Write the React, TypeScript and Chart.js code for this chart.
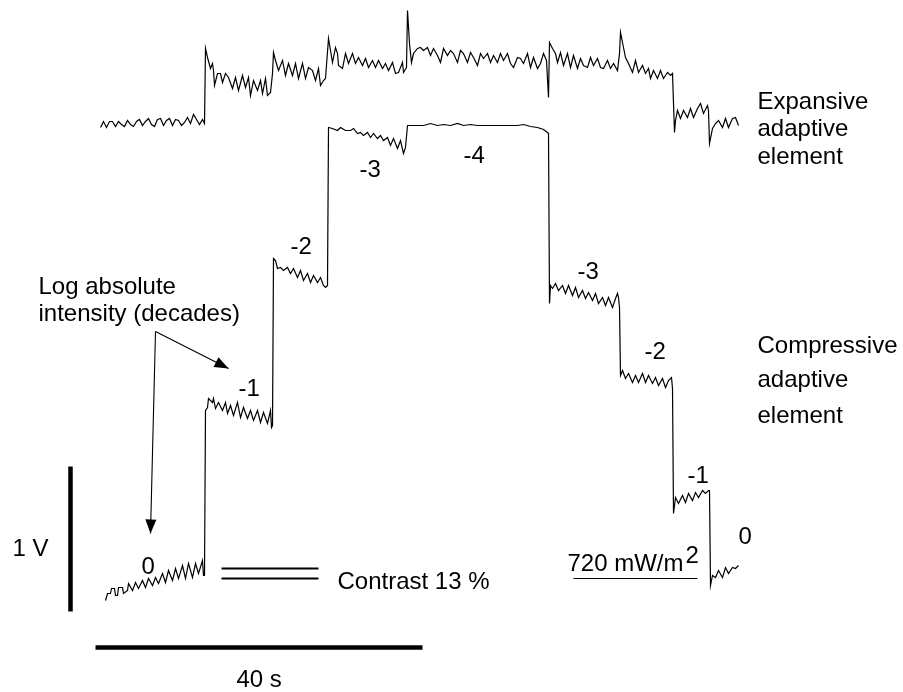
import { useEffect, useRef } from "react";
import { Chart, registerables } from "chart.js";

Chart.register(...registerables);

// Figure units: time axis, 327 units = 40 s; signal axis (pointing down), 145 units = 1 V.

// Upper trace: expansive adaptive element  [time, signal]
const expansiveTrace: [number, number][] = [
  [100, 127], [103, 121], [106, 127], [109, 121], [112, 121], [115, 126], [118, 121], [121, 124],
  [124, 126], [127, 120], [130, 124], [133, 126], [136, 121], [139, 119], [142, 125], [145, 121],
  [148, 118], [151, 124], [154, 126], [157, 119], [160, 118], [163, 125], [166, 120], [169, 118],
  [172, 125], [175, 119], [178, 120], [181, 125], [184, 122], [187, 117], [190, 123], [193, 114],
  [196, 119], [199, 124], [202, 119], [204, 123],
  [205, 48], [207, 57], [210, 68], [212, 63], [213, 70], [214, 85], [217, 73], [220, 73], [222, 82],
  [225, 73], [228, 77], [232, 88], [235, 77], [238, 90], [242, 75], [245, 87], [248, 77], [250, 95],
  [253, 80], [257, 90], [260, 80], [262, 93], [265, 78], [267, 95], [270, 92], [272, 73],
  [273, 52], [275, 60], [278, 70], [282, 60], [285, 75], [288, 63], [292, 75], [295, 63], [298, 78],
  [302, 63], [305, 78], [308, 67], [312, 70], [315, 80], [318, 68], [320, 85], [323, 80], [325, 78],
  [328, 38], [330, 50], [332, 62], [335, 47], [337, 53], [338, 65], [342, 68], [345, 53], [348, 63],
  [352, 53], [355, 63], [358, 57], [362, 65], [365, 58], [368, 67], [372, 60], [375, 67], [378, 60],
  [382, 68], [385, 63], [388, 70], [392, 62], [395, 73], [398, 72], [402, 62], [403, 72], [406, 67],
  [407, 10], [409, 43], [411, 62], [413, 53], [417, 48], [420, 47], [423, 50], [427, 47], [430, 55],
  [433, 48], [437, 55], [440, 62], [443, 48], [447, 55], [450, 50], [453, 53], [457, 62], [460, 50],
  [463, 53], [467, 62], [470, 52], [473, 57], [477, 65], [480, 53], [483, 58], [487, 53], [490, 62],
  [493, 55], [497, 62], [500, 53], [503, 60], [507, 53], [510, 63], [513, 67], [517, 57], [520, 58],
  [523, 63], [527, 53], [530, 67], [533, 57], [537, 68], [540, 63], [543, 53], [546, 60],
  [548, 97], [549, 42], [552, 48], [555, 53], [557, 62], [560, 52], [563, 65], [567, 53], [570, 67],
  [573, 55], [577, 68], [580, 58], [583, 65], [587, 67], [590, 57], [593, 65], [597, 58], [600, 67],
  [603, 68], [607, 60], [610, 68], [613, 63], [617, 70], [619, 53],
  [620, 32], [622, 42], [625, 57], [628, 63], [632, 72], [635, 60], [638, 72], [642, 65], [645, 73],
  [648, 68], [650, 78], [653, 70], [657, 78], [660, 70], [663, 78], [667, 72], [670, 75], [672, 73],
  [674, 132], [675, 120], [677, 110], [680, 118], [683, 110], [687, 117], [690, 108], [693, 117],
  [697, 108], [700, 103], [703, 113], [707, 105], [708, 110],
  [709, 143], [712, 128], [715, 123], [718, 120], [722, 127], [725, 118], [728, 127], [732, 118],
  [735, 117], [738, 125],
];

// Lower trace: compressive adaptive element  [time, signal]
const compressiveTrace: [number, number][] = [
  [105, 600], [107, 593], [110, 593], [111, 588], [114, 588], [115, 595], [117, 595], [118, 587],
  [122, 587], [123, 593], [127, 590], [128, 583], [132, 590], [135, 582], [138, 588], [142, 580],
  [145, 587], [148, 578], [152, 585], [155, 577], [158, 583], [162, 573], [165, 582], [168, 570],
  [172, 580], [175, 568], [178, 578], [182, 565], [185, 578], [188, 563], [192, 577], [195, 563],
  [198, 573], [202, 560], [203, 575], [204, 575],
  [205, 410], [207, 407], [208, 398], [212, 402], [213, 398], [215, 408], [218, 402], [222, 410],
  [225, 402], [227, 413], [230, 405], [233, 415], [237, 402], [240, 417], [243, 407], [247, 418],
  [250, 410], [253, 420], [257, 410], [260, 422], [263, 412], [267, 423], [270, 410], [271, 427],
  [272, 425],
  [273, 258], [275, 260], [277, 268], [280, 267], [283, 270], [287, 267], [290, 273], [293, 268],
  [297, 277], [300, 270], [303, 280], [307, 273], [310, 282], [313, 275], [317, 282], [320, 277],
  [323, 285], [325, 287], [327, 285],
  [328, 127], [332, 128], [337, 130], [340, 127], [345, 130], [350, 130], [353, 128], [357, 133],
  [360, 132], [363, 135], [367, 132], [370, 137], [373, 133], [377, 138], [380, 135], [383, 140],
  [387, 137], [390, 145], [393, 138], [397, 148], [400, 140], [403, 153], [405, 147],
  [407, 125], [410, 125], [423, 125], [430, 123], [437, 125], [443, 124], [450, 125], [457, 123],
  [463, 125], [470, 124], [477, 125], [490, 125], [507, 125], [517, 125], [523, 124], [530, 126],
  [537, 127], [543, 129], [547, 132], [548, 133],
  [549, 303], [550, 285], [552, 288], [555, 283], [558, 290], [562, 285], [565, 293], [568, 285],
  [572, 295], [575, 287], [578, 297], [582, 290], [585, 298], [588, 292], [592, 300], [595, 293],
  [598, 303], [602, 297], [605, 305], [608, 297], [612, 307], [615, 298], [617, 293], [618, 297],
  [619, 307],
  [620, 375], [622, 370], [625, 378], [628, 373], [632, 382], [635, 375], [638, 382], [642, 373],
  [645, 382], [648, 375], [652, 383], [655, 377], [658, 385], [662, 378], [665, 387], [668, 380],
  [671, 377], [672, 388],
  [673, 513], [675, 497], [678, 503], [682, 495], [685, 502], [688, 493], [692, 500], [695, 492],
  [698, 497], [702, 490], [705, 493], [708, 490], [709, 490],
  [710, 585], [712, 575], [715, 577], [718, 570], [722, 577], [725, 567], [728, 573], [732, 567],
  [735, 568], [738, 565],
];

// Scale bars and marker lines
const voltBar: [number, number][] = [[70, 466], [70, 611]];
const timeBar: [number, number][] = [[95, 647], [422, 647]];
const contrastLineA: [number, number][] = [[221, 568], [318, 568]];
const contrastLineB: [number, number][] = [[221, 578], [318, 578]];
const intensityUnderline: [number, number][] = [[573, 578], [697, 578]];

// Arrows from the "Log absolute intensity" note: [start, tip]
const arrows: [number, number][][] = [
  [[155, 331], [228, 368]],
  [[155, 331], [150, 533]],
];

// Text labels
const decadeLabels = ["0", "-1", "-2", "-3", "-4", "-3", "-2", "-1", "0"];
const decadeAnchors: [number, number][] = [
  [141, 573], [238, 395], [290, 253], [359, 176], [463, 162], [577, 278], [644, 358], [687, 482], [738, 543],
];
const noteLines = ["Log absolute", "intensity (decades)"];
const noteAnchors: [number, number][] = [[38, 293], [38, 320]];
const expansiveLines = ["Expansive", "adaptive", "element"];
const expansiveAnchors: [number, number][] = [[757, 108], [757, 135], [757, 163]];
const compressiveLines = ["Compressive", "adaptive", "element"];
const compressiveAnchors: [number, number][] = [[757, 352], [757, 386], [757, 422]];
const otherLabels = ["1 V", "40 s", "Contrast 13 %"];
const otherAnchors: [number, number][] = [[12, 555], [236, 686], [337, 588]];
const intensityLabel = "720 mW/m";
const intensitySup = "2";
const intensityAnchor: [number, number] = [567, 570];

const FONT = '24px "Liberation Sans", Arial, Helvetica, sans-serif';

const toXY = (pts: [number, number][]) => pts.map(([x, y]) => ({ x, y }));

const annotationPlugin = {
  id: "figureAnnotations",
  afterDatasetsDraw(chart: any) {
    const { ctx } = chart;
    const xs = chart.scales.x;
    const ys = chart.scales.y;
    const px = (v: number) => xs.getPixelForValue(v);
    const py = (v: number) => ys.getPixelForValue(v);
    ctx.save();
    ctx.fillStyle = "#000";
    ctx.font = FONT;
    ctx.textAlign = "left";
    ctx.textBaseline = "alphabetic";
    const drawGroup = (texts: string[], anchors: [number, number][]) => {
      texts.forEach((t, i) => ctx.fillText(t, px(anchors[i][0]), py(anchors[i][1])));
    };
    drawGroup(decadeLabels, decadeAnchors);
    drawGroup(noteLines, noteAnchors);
    drawGroup(expansiveLines, expansiveAnchors);
    drawGroup(compressiveLines, compressiveAnchors);
    drawGroup(otherLabels, otherAnchors);
    const ix = px(intensityAnchor[0]);
    const iy = py(intensityAnchor[1]);
    ctx.fillText(intensityLabel, ix, iy);
    const w = ctx.measureText(intensityLabel).width;
    ctx.fillText(intensitySup, ix + w + 2, iy - 8);

    // arrowheads
    arrows.forEach(([s, t]) => {
      const sx = px(s[0]), sy = py(s[1]);
      const tx = px(t[0]), ty = py(t[1]);
      const ang = Math.atan2(ty - sy, tx - sx);
      const len = 14;
      const half = 5.5;
      const bx = tx - len * Math.cos(ang);
      const by = ty - len * Math.sin(ang);
      ctx.beginPath();
      ctx.moveTo(tx, ty);
      ctx.lineTo(bx + half * Math.sin(ang), by - half * Math.cos(ang));
      ctx.lineTo(bx - half * Math.sin(ang), by + half * Math.cos(ang));
      ctx.closePath();
      ctx.fill();
    });
    ctx.restore();
  },
};

export default function App() {
  const ref = useRef<HTMLCanvasElement | null>(null);
  useEffect(() => {
    if (!ref.current) return;
    const lineDs = (data: [number, number][], width: number) => ({
      data: toXY(data),
      borderColor: "#000",
      backgroundColor: "#000",
      borderWidth: width,
      pointRadius: 0,
      tension: 0,
      fill: false,
      borderCapStyle: "butt" as const,
      borderJoinStyle: "miter" as const,
    });
    const chart = new Chart(ref.current, {
      type: "line",
      data: {
        datasets: [
          lineDs(expansiveTrace, 1.2),
          lineDs(compressiveTrace, 1.2),
          lineDs(voltBar, 4.5),
          lineDs(timeBar, 4.5),
          lineDs(contrastLineA, 2.2),
          lineDs(contrastLineB, 2.2),
          lineDs(intensityUnderline, 1.2),
          ...arrows.map((a) => lineDs(a as [number, number][], 1.1)),
        ] as any,
      },
      options: {
        responsive: false,
        animation: false,
        layout: { padding: 0 },
        plugins: { legend: { display: false }, tooltip: { enabled: false } },
        scales: {
          x: { type: "linear", min: -0.5, max: 902.5, display: false },
          y: { type: "linear", min: -0.5, max: 691.5, reverse: true, display: false },
        },
      },
      plugins: [annotationPlugin],
    });
    return () => chart.destroy();
  }, []);
  return (
    <div style={{ position: "fixed", left: 0, top: 0, width: 903, height: 692, background: "#fff" }}>
      <canvas ref={ref} width={903} height={692} />
    </div>
  );
}
